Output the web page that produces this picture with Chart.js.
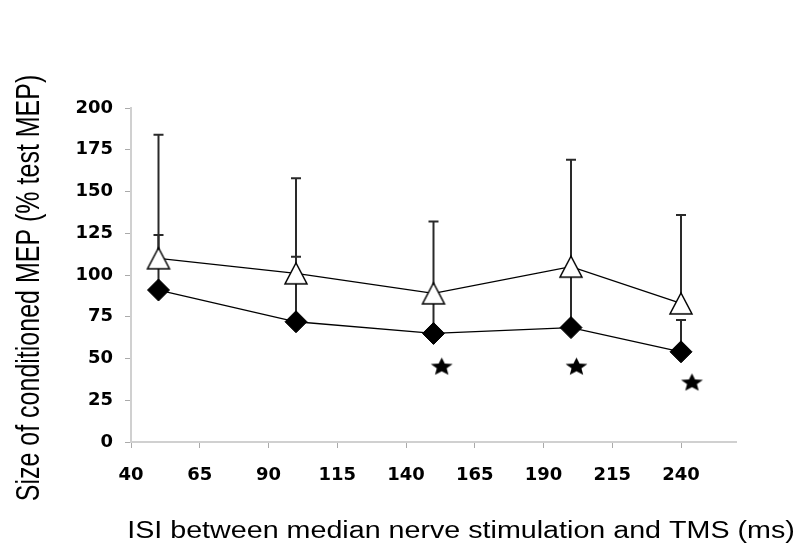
<!DOCTYPE html>
<html>
<head>
<meta charset="utf-8">
<script src="https://cdn.jsdelivr.net/npm/chart.js@4.4.1/dist/chart.umd.min.js"></script>
<style>
  html, body { margin: 0; padding: 0; background: #fff; }
</style>
</head>
<body>
<canvas id="mepChart" width="800" height="556"></canvas>
<script>
// ISI values (ms)
const isi = [50, 100, 150, 200, 240];
// open triangles: mean + upper SD
const openMean = [110, 101, 89, 105, 83];
const openSD = [74, 57, 43, 64, 53];
// filled diamonds: mean + upper SD
const filledMean = [91, 72, 65, 68.5, 54];
const filledSD = [33, 39, 22, 34, 19];
// significance stars
const starX = [153, 202, 244];
const starY = [45.5, 45.5, 36];

const xTicks = [40, 65, 90, 115, 140, 165, 190, 215, 240];
const xTitle = 'ISI between median nerve stimulation and TMS (ms)';
const yTitle = 'Size of conditioned MEP (% test MEP)';

function makeStar(rx, ry) {
    var c = document.createElement('canvas');
    c.width = Math.ceil(rx * 2) + 2;
    c.height = Math.ceil(ry * 2) + 2;
    var g = c.getContext('2d');
    g.translate(c.width / 2, c.height / 2 + 1);
    g.beginPath();
    for (var k = 0; k < 10; k++) {
        var r = k % 2 ? 0.45 : 1;
        var ang = -Math.PI / 2 + k * Math.PI / 5;
        g.lineTo(Math.cos(ang) * rx * r, Math.sin(ang) * ry * r);
    }
    g.closePath();
    g.fillStyle = '#000';
    g.fill();
    return c;
}

// open triangle centred on its bounding box (like the original markers)
function makeTriangle(w, h) {
    var c = document.createElement('canvas');
    c.width = w + 4;
    c.height = h + 4;
    var g = c.getContext('2d');
    g.beginPath();
    g.moveTo(c.width / 2, 2);
    g.lineTo(c.width - 2, h + 2);
    g.lineTo(2, h + 2);
    g.closePath();
    g.fillStyle = '#fff';
    g.fill();
    g.lineWidth = 1.5;
    g.strokeStyle = '#000';
    g.stroke();
    return c;
}

const errorBars = {
    id: 'errorBars',
    beforeDatasetsDraw(chart) {
        var ctx = chart.ctx, xs = chart.scales.x, ys = chart.scales.y;
        ctx.save();
        ctx.strokeStyle = '#2a2a2a';
        ctx.lineWidth = 2;
        [[openMean, openSD], [filledMean, filledSD]].forEach(function (s) {
            isi.forEach(function (v, i) {
                var px = xs.getPixelForValue(v);
                var y0 = ys.getPixelForValue(s[0][i]);
                var y1 = ys.getPixelForValue(s[0][i] + s[1][i]);
                ctx.beginPath();
                ctx.moveTo(px, y0);
                ctx.lineTo(px, y1);
                ctx.moveTo(px - 5, y1);
                ctx.lineTo(px + 5, y1);
                ctx.stroke();
            });
        });
        ctx.restore();
    }
};

// axis titles, stretched wide like the original figure
const axisTitles = {
    id: 'axisTitles',
    afterDraw(chart) {
        var ctx = chart.ctx;
        ctx.save();
        ctx.fillStyle = '#000';
        ctx.textAlign = 'center';
        ctx.textBaseline = 'alphabetic';
        ctx.font = '23.5px "Liberation Sans", Arial, sans-serif';
        ctx.translate(461, 538);
        ctx.scale(1.22, 1);
        ctx.fillText(xTitle, 0, 0);
        ctx.restore();

        ctx.save();
        ctx.fillStyle = '#000';
        ctx.textAlign = 'center';
        ctx.textBaseline = 'alphabetic';
        ctx.font = '25px "Liberation Sans", Arial, sans-serif';
        ctx.translate(39, 288);
        ctx.rotate(-Math.PI / 2);
        ctx.scale(1, 1.3);
        ctx.fillText(yTitle, 0, 0);
        ctx.restore();
    }
};

const tickFont = { family: 'DejaVu Sans', weight: 'bold', size: 18 };

var ctx = document.getElementById('mepChart').getContext('2d');
var mepChart = new Chart(ctx, {
    type: 'scatter',
    data: {
        datasets: [{
            data: isi.map((v, i) => ({ x: v, y: openMean[i] })),
            showLine: true,
            borderColor: '#000',
            borderWidth: 1.3,
            pointStyle: makeTriangle(22, 21),
            pointRadius: 12,
            order: 0
        }, {
            data: isi.map((v, i) => ({ x: v, y: filledMean[i] })),
            showLine: true,
            borderColor: '#000',
            borderWidth: 1.3,
            pointStyle: 'rectRot',
            pointRadius: 11,
            pointBackgroundColor: '#000',
            pointBorderColor: '#000',
            pointBorderWidth: 1,
            order: 1
        }, {
            data: starX.map((v, i) => ({ x: v, y: starY[i] })),
            showLine: false,
            pointStyle: makeStar(11.5, 9.5),
            pointRadius: 11,
            order: 2
        }]
    },
    options: {
        responsive: false,
        animation: false,
        layout: { padding: { top: 108, right: 64, bottom: 0, left: 0 } },
        plugins: { legend: { display: false }, tooltip: { enabled: false } },
        scales: {
            x: {
                type: 'linear',
                min: 40,
                max: 260,
                afterBuildTicks: s => { s.ticks = xTicks.map(v => ({ value: v })); },
                afterFit: s => { s.height = 114; },
                ticks: { color: '#000', font: tickFont, padding: 17, maxRotation: 0, autoSkip: false },
                grid: { drawOnChartArea: false, color: '#aaa', tickLength: 6 },
                border: { color: '#d0d0d0', width: 2 }
            },
            y: {
                min: 0,
                max: 200,
                afterFit: s => { s.width = 131; },
                ticks: { stepSize: 25, color: '#000', font: tickFont, padding: 12 },
                grid: { drawOnChartArea: false, color: '#aaa', tickLength: 6 },
                border: { color: '#d0d0d0', width: 2 }
            }
        }
    },
    plugins: [errorBars, axisTitles]
});
</script>
</body>
</html>
